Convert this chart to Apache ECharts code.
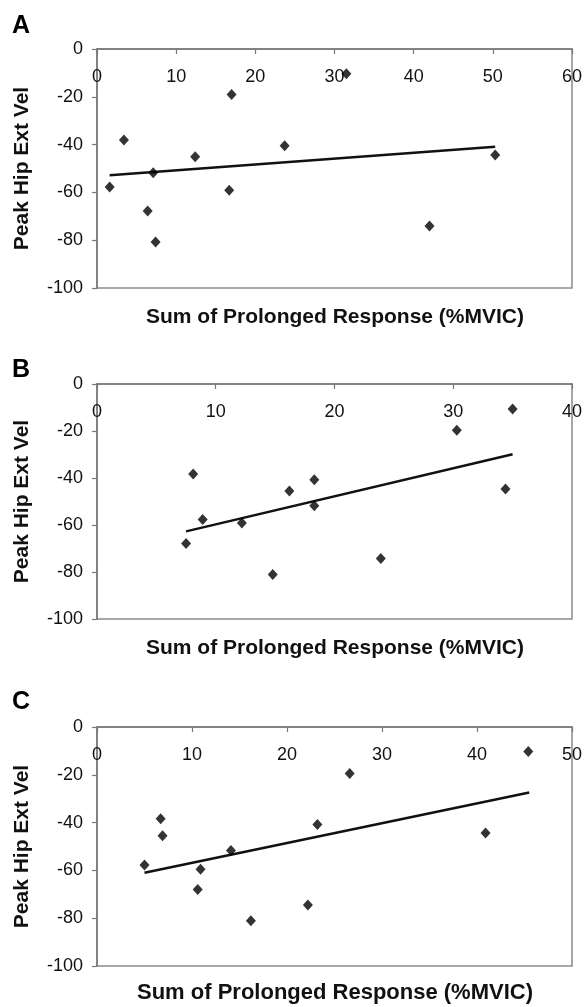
<!DOCTYPE html>
<html>
<head>
<meta charset="utf-8">
<script src="https://cdn.jsdelivr.net/npm/echarts@6/dist/echarts.min.js"></script>
<style>
html,body{margin:0;padding:0;background:#fff;}
#chart{width:585px;height:1007px;}
</style>
</head>
<body>
<div id="chart"></div>
<script>
// Peak hip extension velocity (same subjects in all panels)
const panelLabels = ['A', 'B', 'C'];
const xAxisTitle = 'Sum of Prolonged Response (%MVIC)';
const yAxisTitle = 'Peak Hip Ext Vel';
const xMaxes = [60, 40, 50];
const yTicks = [-100, -80, -60, -40, -20, 0];

const pointsA = [
  [1.6, -57.7], [3.4, -38.1], [6.4, -67.8], [7.1, -51.8], [7.4, -80.8], [12.4, -45.1],
  [16.7, -59.1], [17.0, -19.0], [23.7, -40.5], [31.5, -10.4], [42.0, -74.1], [50.3, -44.4]
];
const pointsB = [
  [7.5, -67.9], [8.1, -38.3], [8.9, -57.7], [12.2, -59.1], [14.8, -81.1], [16.2, -45.5],
  [18.3, -40.7], [18.3, -51.8], [23.9, -74.3], [30.3, -19.7], [34.4, -44.7], [35.0, -10.6]
];
const pointsC = [
  [5.0, -57.7], [6.7, -38.4], [6.9, -45.5], [10.6, -68.0], [10.9, -59.5], [14.1, -51.7],
  [16.2, -81.1], [22.2, -74.5], [23.2, -40.8], [26.6, -19.5], [40.9, -44.4], [45.4, -10.2]
];
const trendA = [[1.6, -52.8], [50.3, -40.9]];
const trendB = [[7.5, -62.7], [35.0, -29.9]];
const trendC = [[5.0, -61.0], [45.5, -27.4]];

const pointSets = [pointsA, pointsB, pointsC];
const trendSets = [trendA, trendB, trendC];

// layout (pixels)
const grids = [
  {left: 97, right: 13, top: 49, height: 239},
  {left: 97, right: 13, top: 384, height: 235},
  {left: 97, right: 13, top: 727, height: 239}
];
const letterY = [28, 372, 704];
const xNameY = [317, 648, 993];
const xNameSize = [21, 21, 22];

const font = '"Liberation Sans", Arial, sans-serif';

const option = {
  backgroundColor: '#ffffff',
  animation: false,
  grid: grids.map(g => Object.assign({show: true, borderColor: '#8a8a8a', borderWidth: 1.5, backgroundColor: 'transparent'}, g)),
  xAxis: xMaxes.map((mx, i) => ({
    type: 'value', gridIndex: i, min: 0, max: mx, interval: 10,
    position: 'top',
    axisLine: {show: true, onZero: false, lineStyle: {color: '#777', width: 1.5}},
    axisTick: {show: true, inside: true, length: 5, lineStyle: {color: '#777', width: 1.2}},
    axisLabel: {inside: true, color: '#111', fontSize: 18, fontFamily: font, margin: 19},
    splitLine: {show: false}
  })),
  yAxis: xMaxes.map((mx, i) => ({
    type: 'value', gridIndex: i, min: yTicks[0], max: yTicks[yTicks.length - 1], interval: 20,
    axisLine: {show: true, onZero: false, lineStyle: {color: '#777', width: 1.5}},
    axisTick: {show: true, length: 5, lineStyle: {color: '#777', width: 1.2}},
    axisLabel: {color: '#111', fontSize: 18, fontFamily: font, margin: 14},
    splitLine: {show: false},
    name: yAxisTitle,
    nameLocation: 'middle',
    nameRotate: 90,
    nameGap: 64,
    nameTextStyle: {color: '#111', fontSize: 21, fontWeight: 'bold', fontFamily: font}
  })),
  series: [],
  graphic: []
};

pointSets.forEach((pts, i) => {
  option.series.push({
    type: 'scatter', xAxisIndex: i, yAxisIndex: i,
    data: pts, symbol: 'diamond', symbolSize: [10, 11],
    itemStyle: {color: '#000'}, z: 3
  });
  option.series.push({
    type: 'line', xAxisIndex: i, yAxisIndex: i,
    data: trendSets[i], symbol: 'none',
    lineStyle: {color: '#111', width: 2.5}, z: 2
  });
  option.graphic.push({
    type: 'text', left: 12, top: letterY[i] - 14,
    style: {text: panelLabels[i], fontSize: 25, fontWeight: 'bold', fontFamily: font, fill: '#000'}
  });
  option.graphic.push({
    type: 'text', x: 335, y: xNameY[i],
    style: {text: xAxisTitle, fontSize: xNameSize[i], fontWeight: 'bold', fontFamily: font, fill: '#111',
      align: 'center', verticalAlign: 'middle'}
  });
});

const chart = echarts.init(document.getElementById('chart'), null, {renderer: 'canvas'});
chart.setOption(option);
</script>
</body>
</html>
